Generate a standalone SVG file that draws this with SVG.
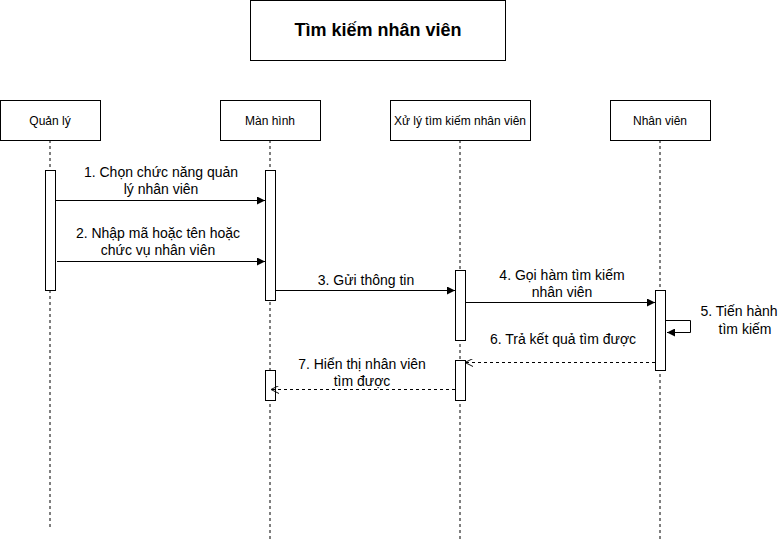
<svg xmlns="http://www.w3.org/2000/svg" width="778" height="541" viewBox="0 0 778 541">
  <style>
    .box { fill: #ffffff; stroke: #000000; stroke-width: 1; }
    .act { fill: #ffffff; stroke: #000000; stroke-width: 1; }
    .life { stroke: #000000; stroke-width: 1; stroke-dasharray: 3 3; fill: none; }
    .msg { stroke: #000000; stroke-width: 1; fill: none; }
    .ret { stroke: #000000; stroke-width: 1; fill: none; stroke-dasharray: 3 3; }
    .hdr { font-family: "Liberation Sans", Arial, sans-serif; font-size: 12px; fill: #000000; text-anchor: middle; }
    .lbl { font-family: "Liberation Sans", Arial, sans-serif; font-size: 14px; fill: #000000; text-anchor: middle; }
    .title { font-family: "Liberation Sans", Arial, sans-serif; font-size: 18px; font-weight: bold; fill: #000000; text-anchor: middle; }
  </style>
  <defs>
    <marker id="block" viewBox="0 0 10 10" refX="10" refY="5" markerWidth="8" markerHeight="8" markerUnits="userSpaceOnUse" orient="auto">
      <path d="M0,0 L10,5 L0,10 Z" fill="#000000"/>
    </marker>
    <marker id="open" viewBox="0 0 10 10" refX="10" refY="5" markerWidth="8" markerHeight="8" markerUnits="userSpaceOnUse" orient="auto">
      <path d="M0,0 L10,5 L0,10" fill="none" stroke="#000000" stroke-width="1.2"/>
    </marker>
  </defs>
  <rect width="778" height="541" fill="#ffffff"/>

  <g id="title">
    <rect class="box" x="250.5" y="0.5" width="255" height="60"/>
    <text class="title" x="378" y="36">Tìm kiếm nhân viên</text>
  </g>

  <g id="lifeline-quanly">
    <line class="life" x1="50" y1="140" x2="50" y2="528"/>
    <rect class="box" x="0.5" y="100.5" width="100" height="40"/>
    <text class="hdr" x="50" y="125">Quản lý</text>
    <rect class="act" x="45.5" y="170.5" width="10" height="120"/>
  </g>

  <g id="lifeline-manhinh">
    <line class="life" x1="270" y1="140" x2="270" y2="541"/>
    <rect class="box" x="220.5" y="100.5" width="100" height="40"/>
    <text class="hdr" x="270" y="125">Màn hình</text>
    <rect class="act" x="265.5" y="170.5" width="10" height="130"/>
    <rect class="act" x="265.5" y="370.5" width="10" height="30"/>
  </g>

  <g id="lifeline-xuly">
    <line class="life" x1="460" y1="140" x2="460" y2="541"/>
    <rect class="box" x="390.5" y="100.5" width="140" height="40"/>
    <text class="hdr" x="460" y="125">Xử lý tìm kiếm nhân viên</text>
    <rect class="act" x="455.5" y="270.5" width="10" height="70"/>
    <rect class="act" x="455.5" y="360.5" width="10" height="40"/>
  </g>

  <g id="lifeline-nhanvien">
    <line class="life" x1="660" y1="140" x2="660" y2="541"/>
    <rect class="box" x="610.5" y="100.5" width="100" height="40"/>
    <text class="hdr" x="660" y="125">Nhân viên</text>
    <rect class="act" x="655.5" y="290.5" width="10" height="80"/>
  </g>

  <g id="connectors">
    <line class="msg" x1="56" y1="200.5" x2="265" y2="200.5" marker-end="url(#block)"/>
    <line class="msg" x1="57" y1="261.5" x2="265" y2="261.5" marker-end="url(#block)"/>
    <line class="msg" x1="276" y1="290.5" x2="455" y2="290.5" marker-end="url(#block)"/>
    <line class="msg" x1="466" y1="302.5" x2="655" y2="302.5" marker-end="url(#block)"/>
    <path class="msg" d="M666,320.5 H690.5 V332.5 H667" marker-end="url(#block)"/>
    <line class="ret" x1="655" y1="362.5" x2="465" y2="362.5" marker-end="url(#open)"/>
    <line class="ret" x1="455" y1="389.5" x2="271" y2="389.5" marker-end="url(#open)"/>
  </g>

  <g id="labels">
    <text class="lbl" x="161" y="177">1. Chọn chức năng quản</text>
    <text class="lbl" x="161" y="194">lý nhân viên</text>
    <text class="lbl" x="158" y="238">2. Nhập mã hoặc tên hoặc</text>
    <text class="lbl" x="158" y="255">chức vụ nhân viên</text>
    <text class="lbl" x="366" y="285">3. Gửi thông tin</text>
    <text class="lbl" x="562" y="280">4. Gọi hàm tìm kiếm</text>
    <text class="lbl" x="562" y="297">nhân viên</text>
    <text class="lbl" x="739" y="316">5. Tiến hành</text>
    <text class="lbl" x="745" y="334">tìm kiếm</text>
    <text class="lbl" x="563" y="344">6. Trả kết quả tìm được</text>
    <text class="lbl" x="362" y="369">7. Hiển thị nhân viên</text>
    <text class="lbl" x="362" y="386">tìm được</text>
  </g>
</svg>
